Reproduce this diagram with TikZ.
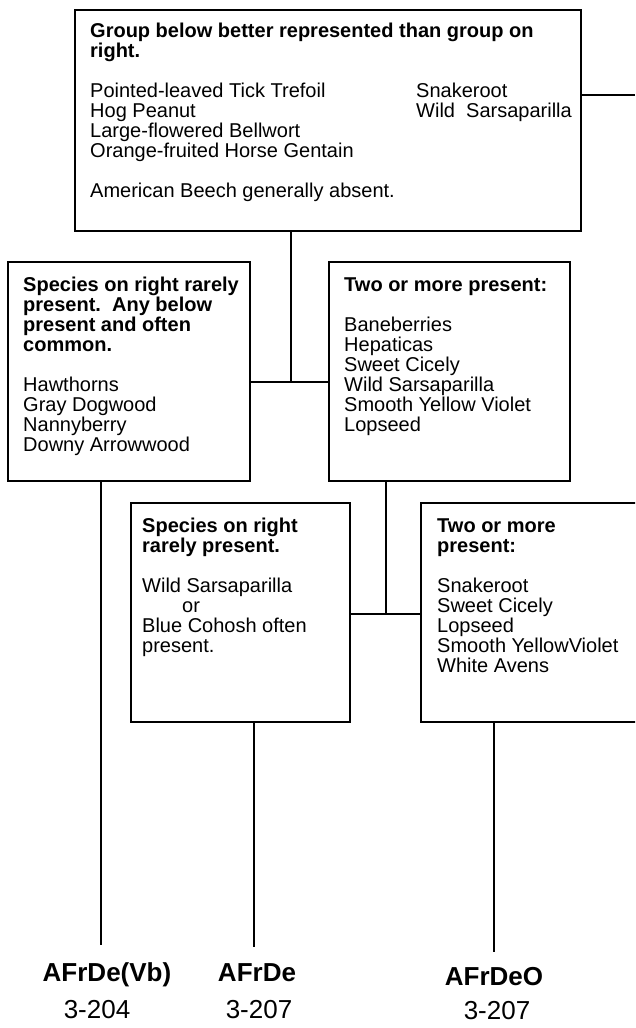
\documentclass[tikz,border=0pt]{standalone}
\usepackage{fontspec}
\setmainfont{Liberation Sans}
\begin{document}
\begin{tikzpicture}[x=1pt,y=-1pt,
  frame/.style={draw, line width=1.5pt, anchor=north west, inner sep=0pt, outer sep=0pt},
  % text blocks are placed by the baseline of their last line
  body/.style={anchor=base west, align=left, inner sep=0pt, font=\fontsize{20}{20}\selectfont},
  code/.style={anchor=base, inner sep=0pt, font=\fontsize{26}{26}\selectfont\bfseries},
  page/.style={anchor=base, inner sep=0pt, font=\fontsize{26}{26}\selectfont},
  link/.style={line width=1.4pt}]
\useasboundingbox (0,0) rectangle (635,1028);
\clip (0,0) rectangle (635,1028);

% decision boxes
\node[frame, minimum width=506pt, minimum height=221pt] (top) at (75,10) {};
\node[frame, minimum width=242pt, minimum height=219pt] (B) at (8,262) {};
\node[frame, minimum width=241pt, minimum height=219pt] (C) at (329,262) {};
\node[frame, minimum width=219pt, minimum height=219pt] (D) at (131,503) {};
\node[frame, minimum width=260pt, minimum height=219pt] (E) at (421,503) {};

% box contents
\node[body] (topTxt) at (90,197) {\textbf{Group below better represented than group on}\\
  \textbf{right.}\\[20pt]
  Pointed-leaved Tick Trefoil\\Hog Peanut\\Large-flowered Bellwort\\Orange-fruited Horse Gentain\\[20pt]
  American Beech generally absent.};
\node[body] (topAlt) at (416,117) {Snakeroot\\Wild\ \ Sarsaparilla};

\node[body] (BTxt) at (23,451) {\textbf{Species on right rarely}\\\textbf{present.\ \ Any below}\\
  \textbf{present and often}\\\textbf{common.}\\[20pt]
  Hawthorns\\Gray Dogwood\\Nannyberry\\Downy Arrowwood};

\node[body] (CTxt) at (344,431) {\textbf{Two or more present:}\\[20pt]
  Baneberries\\Hepaticas\\Sweet Cicely\\Wild Sarsaparilla\\Smooth Yellow Violet\\Lopseed};

\node[body] (DTxt) at (142,652) {\textbf{Species on right}\\\textbf{rarely present.}\\[20pt]
  Wild Sarsaparilla\\\hspace*{40pt}or\\Blue Cohosh often\\present.};

\node[body] (ETxt) at (437,672) {\textbf{Two or more}\\\textbf{present:}\\[20pt]
  Snakeroot\\Sweet Cicely\\Lopseed\\Smooth YellowViolet\\White Avens};

% connectors
\coordinate (exitTop) at (635,95);
\draw[link] (top.east |- exitTop) -- (exitTop);
\coordinate (j1) at (291,382);
\draw[link] (top.south -| j1) -- (j1);
\draw[link] (B.east |- j1) -- (C.west |- j1);
\coordinate (j2) at (386,614);
\draw[link] (C.south -| j2) -- (j2);
\draw[link] (D.east |- j2) -- (E.west |- j2);
\coordinate (endL) at (101,945);
\draw[link] (B.south -| endL) -- (endL);
\coordinate (endM) at (254,947);
\draw[link] (D.south -| endM) -- (endM);
\coordinate (endR) at (494,952);
\draw[link] (E.south -| endR) -- (endR);

% community codes and page references
\node[code] (cVb) at (107,981) {AFrDe(Vb)};
\node[code] (cDe) at (257,981) {AFrDe};
\node[code] (cDeO) at (494,985) {AFrDeO};
\node[page] (pVb) at (97,1018) {3-204};
\node[page] (pDe) at (259,1018) {3-207};
\node[page] (pDeO) at (497,1019) {3-207};
\end{tikzpicture}
\end{document}
